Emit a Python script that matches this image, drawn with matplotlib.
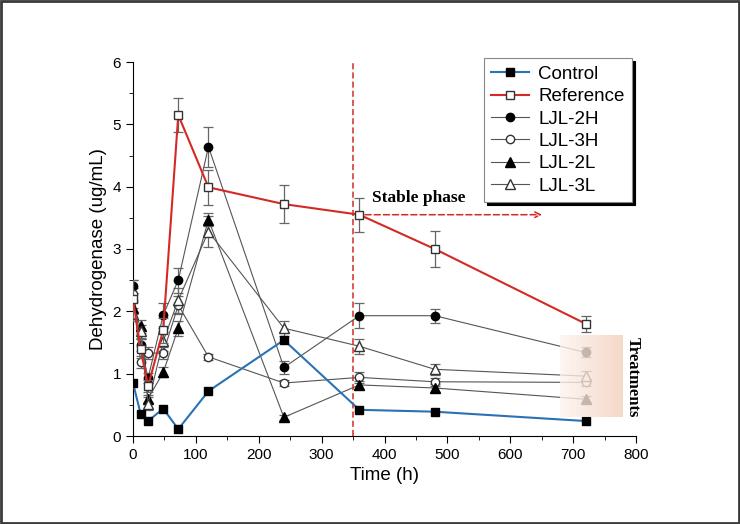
import numpy as np
import matplotlib.pyplot as plt
from matplotlib.patches import Rectangle
from matplotlib.colors import LinearSegmentedColormap

plt.rcParams['font.family'] = ['Liberation Sans', 'DejaVu Sans']

# sampling times (h)
times = [0, 12, 24, 48, 72, 120, 240, 360, 480, 720]
series_names = ['Control', 'Reference', 'LJL-2H', 'LJL-3H', 'LJL-2L', 'LJL-3L']

control = [0.85, 0.36, 0.24, 0.44, 0.11, 0.72, 1.54, 0.42, 0.39, 0.24]
reference = [2.20, 1.40, 0.80, 1.70, 5.15, 3.99, 3.72, 3.55, 3.00, 1.80]
reference_err = [0.30, 0.15, 0.10, 0.20, 0.27, 0.28, 0.31, 0.27, 0.29, 0.13]
ljl_2h = [2.40, 1.46, 0.93, 1.94, 2.50, 4.64, 1.10, 1.93, 1.93, 1.34]
ljl_2h_err = [0.10, 0.10, 0.08, 0.20, 0.20, 0.32, 0.10, 0.20, 0.11, 0.08]
ljl_3h = [2.28, 1.19, 1.33, 1.33, 2.10, 1.27, 0.85, 0.94, 0.87, 0.86]
ljl_3h_err = [0.10, 0.10, 0.10, 0.10, 0.15, 0.05, 0.05, 0.09, 0.06, 0.05]
ljl_2l = [2.05, 1.76, 0.60, 1.02, 1.73, 3.47, 0.30, 0.82, 0.77, 0.59]
ljl_2l_err = [0.10, 0.10, 0.05, 0.08, 0.12, 0.10, 0.04, 0.07, 0.06, 0.05]
ljl_3l = [1.95, 1.68, 0.52, 1.52, 2.18, 3.28, 1.73, 1.44, 1.07, 0.96]
ljl_3l_err = [0.10, 0.10, 0.10, 0.15, 0.20, 0.25, 0.12, 0.12, 0.09, 0.08]

fig = plt.figure(figsize=(7.4, 5.24), dpi=100)
ax = fig.add_axes([133 / 740, 1 - 436 / 524, 503 / 740, 374 / 524])

# outer frame of the figure
fig.patches.append(Rectangle((0.002, 0.002), 0.996, 0.996, transform=fig.transFigure,
                             fill=False, edgecolor='#3a3a3a', linewidth=2))

eb = dict(ecolor='#666666', elinewidth=0.9, capsize=3.5, capthick=0.9)
ms = 5.5

handles = []
h, = ax.plot(times, control, color='#2a72b5', lw=1.5, marker='s', ms=ms,
             mfc='black', mec='black', zorder=4)
handles.append(h)
c = ax.errorbar(times, reference, yerr=reference_err, color='#d42a25', lw=1.5, marker='s', ms=ms,
                mfc='white', mec='#333333', zorder=4, **eb)
handles.append(c.lines[0])
c = ax.errorbar(times, ljl_2h, yerr=ljl_2h_err, color='#555555', lw=0.8, marker='o', ms=ms + 0.5,
                mfc='black', mec='black', zorder=3, **eb)
handles.append(c.lines[0])
c = ax.errorbar(times, ljl_3h, yerr=ljl_3h_err, color='#555555', lw=0.8, marker='o', ms=ms + 0.5,
                mfc='white', mec='#333333', zorder=3, **eb)
handles.append(c.lines[0])
c = ax.errorbar(times, ljl_2l, yerr=ljl_2l_err, color='#555555', lw=0.8, marker='^', ms=ms + 1,
                mfc='black', mec='black', zorder=3, **eb)
handles.append(c.lines[0])
c = ax.errorbar(times, ljl_3l, yerr=ljl_3l_err, color='#555555', lw=0.8, marker='^', ms=ms + 1,
                mfc='white', mec='#333333', zorder=3, **eb)
handles.append(c.lines[0])

# stable phase marker
ax.axvline(350, color='#d42a25', lw=1.1, ls=(0, (4, 2)), zorder=2)
ax.annotate('', xy=(655, 3.55), xytext=(350, 3.55),
            arrowprops=dict(arrowstyle='->', color='#d42a25', lw=1.1, ls=(0, (4, 2))))
ax.text(380, 3.82, 'Stable phase', family=['Liberation Serif'], fontweight='bold',
        fontsize=12.5, va='center', ha='left')

# treatments highlight
grad = np.linspace(0, 1, 50).reshape(1, -1)
cmap = LinearSegmentedColormap.from_list('peach', ['#fdf4ee', '#f3cfbb'])
ax.imshow(grad, extent=(679, 779, 0.3, 1.6), cmap=cmap, aspect='auto', alpha=0.8, zorder=5)
ax.text(795, 0.95, 'Treatments', family=['Liberation Serif'], fontweight='bold',
        fontsize=12, rotation=-90, va='center', ha='center')

ax.set_xlim(0, 800)
ax.set_ylim(0, 6)
ax.spines['top'].set_visible(False)
ax.spines['right'].set_visible(False)
ax.set_xticks(np.arange(0, 801, 100))
ax.set_xticks(np.arange(50, 800, 100), minor=True)
ax.set_yticks(np.arange(0, 7, 1))
ax.set_yticks(np.arange(0.5, 6, 1), minor=True)
ax.tick_params(labelsize=11, length=5)
ax.tick_params(which='minor', length=3)
ax.set_xlabel('Time (h)', fontsize=13.5)
ax.set_ylabel('Dehydrogenase (ug/mL)', fontsize=13.5)

leg = ax.legend(handles, series_names, loc='upper right', bbox_to_anchor=(0.992, 1.01),
                borderaxespad=0, fontsize=13.5, frameon=True, fancybox=False,
                edgecolor='#888888', framealpha=1, shadow={'color': 'black', 'alpha': 1},
                handlelength=2.0, handletextpad=0.5, labelspacing=0.28, borderpad=0.4)
leg.get_frame().set_linewidth(0.8)

fig.savefig('out.png', dpi=100)
